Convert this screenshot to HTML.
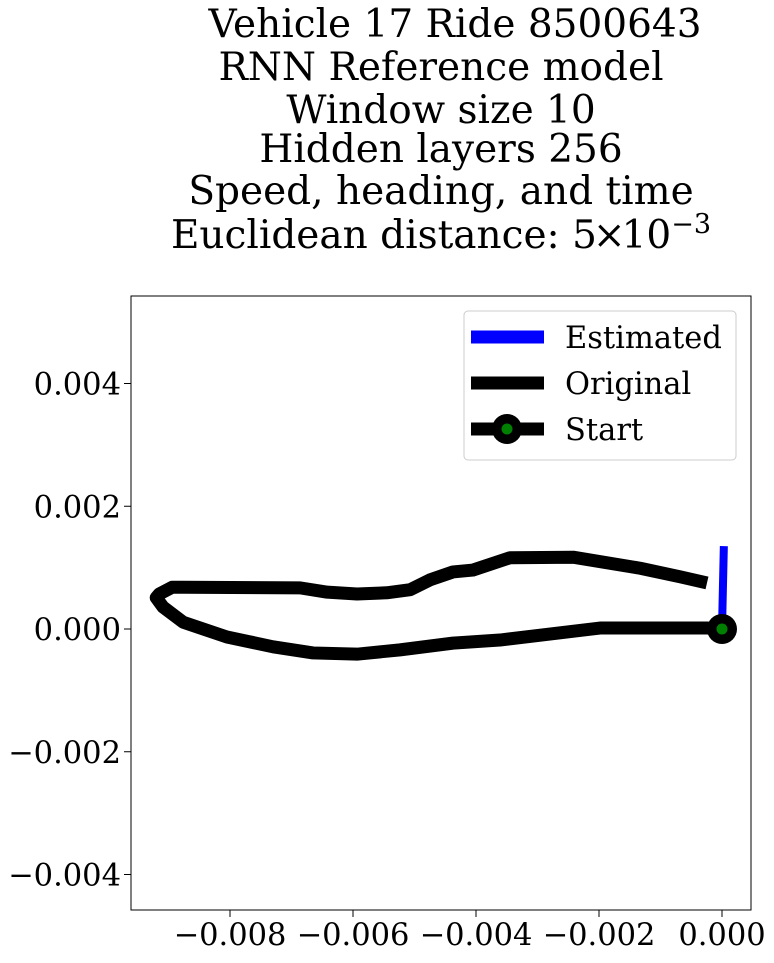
<!DOCTYPE html>
<html><head><meta charset="utf-8"><style>
html,body{margin:0;padding:0;background:#fff;}
svg text{font-family:"DejaVu Serif","Liberation Serif",serif;fill:#000;}
</style></head><body>
<svg id="chart" width="774" height="958" viewBox="0 0 774 958" xmlns="http://www.w3.org/2000/svg">
<g font-size="39" text-anchor="middle">
<text x="455" y="37">Vehicle 17 Ride 8500643</text>
<text x="441" y="80">RNN Reference model</text>
<text x="441" y="123">Window size 10</text>
<text x="441" y="162">Hidden layers 256</text>
<text x="441" y="204">Speed, heading, and time</text>
<text x="441" y="248">Euclidean distance: 5<tspan dx="-4">×</tspan><tspan dx="-4">10</tspan><tspan dy="-15" font-size="27">−3</tspan></text>
</g>
<g id="xticks"></g>
<g id="yticks"></g>
<g id="plot"></g>
<rect x="131" y="296" width="620" height="614" fill="none" stroke="#000" stroke-width="1"/>
<g>
<rect x="464" y="311" width="272" height="149" rx="4" fill="#fff" fill-opacity="0.8" stroke="#ccc"/>
<line x1="471" y1="337" x2="544" y2="337" stroke="#0000ff" stroke-width="13"/>
<text x="565" y="348" font-size="30.5">Estimated</text>
<line x1="471" y1="383" x2="544" y2="383" stroke="#000" stroke-width="13"/>
<text x="565" y="394" font-size="30.5">Original</text>
<line x1="471" y1="429" x2="544" y2="429" stroke="#000" stroke-width="13"/>
<circle cx="507" cy="429" r="15" fill="#000"/>
<circle cx="507" cy="429" r="5.5" fill="#008000"/>
<text x="565" y="440" font-size="30.5">Start</text>
</g>
</svg>
<script>
const xTicks = [-0.008, -0.006, -0.004, -0.002, 0.000];
const xTickLabels = ["−0.008", "−0.006", "−0.004", "−0.002", "0.000"];
const yTicks = [0.004, 0.002, 0.000, -0.002, -0.004];
const yTickLabels = ["0.004", "0.002", "0.000", "−0.002", "−0.004"];
const originalX = [0,-0.244,-1.984,-3.61,-4.374,-5.236,-5.935,-6.65,-7.30,-8.05,-8.76,-9.09,-9.20,-9.15,-8.94,-8.76,-6.86,-6.42,-5.935,-5.45,-5.07,-4.75,-4.374,-4.05,-3.45,-2.42,-1.33,-0.68,-0.244].map(v=>v*1e-3);
const originalY = [0,0.016,0.016,-0.18,-0.23,-0.34,-0.41,-0.39,-0.29,-0.13,0.11,0.36,0.51,0.57,0.68,0.68,0.67,0.60,0.57,0.59,0.64,0.80,0.93,0.96,1.16,1.17,0.99,0.85,0.75].map(v=>v*1e-3);
const estimatedX = [0, 0.00003];
const estimatedY = [0, 0.00135];
const startX = [0];
const startY = [0];

const NS = "http://www.w3.org/2000/svg";
const sx = v => 722 + (v / 0.002) * 123;
const sy = v => 629 - (v / 0.002) * 122.75;
function mk(tag, attrs, parent){const e=document.createElementNS(NS,tag);for(const k in attrs)e.setAttribute(k,attrs[k]);parent.appendChild(e);return e;}

const xg = document.getElementById('xticks');
xTicks.forEach((t,i)=>{
  const l = mk('line',{x1:sx(t),x2:sx(t),y1:910,y2:917,stroke:'#000'},xg);
  
  
  const tx = mk('text',{x:sx(t),y:945,'font-size':30.5,'text-anchor':'middle'},xg);
  tx.textContent = xTickLabels[i];
  
  
});
const yg = document.getElementById('yticks');
yTicks.forEach((t,i)=>{
  const l = mk('line',{x1:124,x2:131,y1:sy(t),y2:sy(t),stroke:'#000'},yg);
  
  
  const tx = mk('text',{x:121,y:sy(t)+11,'font-size':30.5,'text-anchor':'end'},yg);
  tx.textContent = yTickLabels[i];
  
  
});
const pg = document.getElementById('plot');
const pts = (xs,ys)=>xs.map((x,i)=>sx(x)+','+sy(ys[i])).join(' ');
const est = mk('polyline',{points:pts(estimatedX,estimatedY),fill:'none',stroke:'#0000ff','stroke-width':8},pg);


const orig = mk('polyline',{points:pts(originalX,originalY),fill:'none',stroke:'#000','stroke-width':13,'stroke-linejoin':'round'},pg);


startX.forEach((x,i)=>{
  const c = mk('circle',{cx:sx(x),cy:sy(startY[i]),r:15,fill:'#000'},pg);
  
  
  const d = mk('circle',{cx:sx(x),cy:sy(startY[i]),r:5.5,fill:'#008000'},pg);
  
  
});
</script>
</body></html>
